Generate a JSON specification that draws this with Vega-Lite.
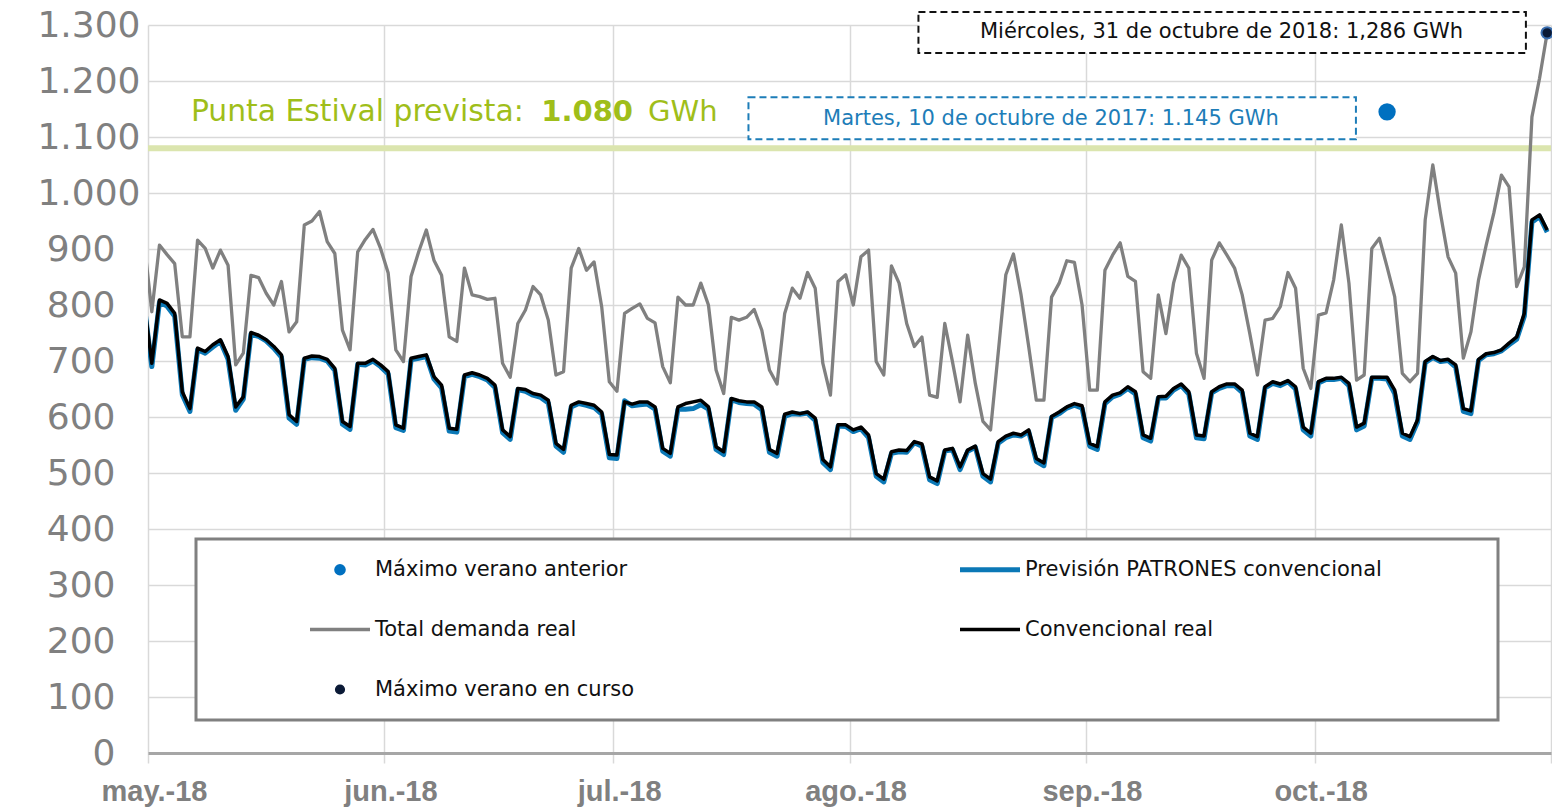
{
  "$schema": "https://vega.github.io/schema/vega-lite/v6.json",
  "width": 1403,
  "height": 728,
  "autosize": {"type": "none"},
  "padding": {"left": 148, "top": 25, "right": 1, "bottom": 54},
  "background": "white",
  "config": {"view": {"stroke": null}, "font": "DejaVu Sans"},
  "datasets": {
    "diario": [
      {"fecha":"2018-04-30","total":912,"prevision":800,"real":804},
      {"fecha":"2018-05-01","total":788,"prevision":690,"real":696},
      {"fecha":"2018-05-02","total":907,"prevision":805,"real":809},
      {"fecha":"2018-05-03","total":890,"prevision":798,"real":803},
      {"fecha":"2018-05-04","total":874,"prevision":780,"real":785},
      {"fecha":"2018-05-05","total":743,"prevision":640,"real":645},
      {"fecha":"2018-05-06","total":743,"prevision":610,"real":615},
      {"fecha":"2018-05-07","total":916,"prevision":720,"real":723},
      {"fecha":"2018-05-08","total":901,"prevision":714,"real":717},
      {"fecha":"2018-05-09","total":866,"prevision":725,"real":729},
      {"fecha":"2018-05-10","total":898,"prevision":735,"real":738},
      {"fecha":"2018-05-11","total":871,"prevision":703,"real":708},
      {"fecha":"2018-05-12","total":693,"prevision":612,"real":618},
      {"fecha":"2018-05-13","total":714,"prevision":632,"real":636},
      {"fecha":"2018-05-14","total":853,"prevision":748,"real":751},
      {"fecha":"2018-05-15","total":849,"prevision":744,"real":746},
      {"fecha":"2018-05-16","total":821,"prevision":736,"real":738},
      {"fecha":"2018-05-17","total":800,"prevision":723,"real":726},
      {"fecha":"2018-05-18","total":842,"prevision":707,"real":711},
      {"fecha":"2018-05-19","total":752,"prevision":598,"real":604},
      {"fecha":"2018-05-20","total":770,"prevision":587,"real":592},
      {"fecha":"2018-05-21","total":943,"prevision":703,"real":705},
      {"fecha":"2018-05-22","total":950,"prevision":706,"real":709},
      {"fecha":"2018-05-23","total":967,"prevision":705,"real":708},
      {"fecha":"2018-05-24","total":913,"prevision":700,"real":703},
      {"fecha":"2018-05-25","total":892,"prevision":683,"real":687},
      {"fecha":"2018-05-26","total":755,"prevision":587,"real":592},
      {"fecha":"2018-05-27","total":720,"prevision":578,"real":583},
      {"fecha":"2018-05-28","total":895,"prevision":694,"real":696},
      {"fecha":"2018-05-29","total":917,"prevision":693,"real":696},
      {"fecha":"2018-05-30","total":935,"prevision":700,"real":703},
      {"fecha":"2018-05-31","total":901,"prevision":690,"real":693},
      {"fecha":"2018-06-01","total":857,"prevision":677,"real":681},
      {"fecha":"2018-06-02","total":720,"prevision":581,"real":586},
      {"fecha":"2018-06-03","total":699,"prevision":576,"real":580},
      {"fecha":"2018-06-04","total":851,"prevision":702,"real":705},
      {"fecha":"2018-06-05","total":895,"prevision":705,"real":708},
      {"fecha":"2018-06-06","total":934,"prevision":708,"real":711},
      {"fecha":"2018-06-07","total":880,"prevision":668,"real":672},
      {"fecha":"2018-06-08","total":853,"prevision":652,"real":657},
      {"fecha":"2018-06-09","total":743,"prevision":575,"real":580},
      {"fecha":"2018-06-10","total":735,"prevision":573,"real":578},
      {"fecha":"2018-06-11","total":866,"prevision":672,"real":675},
      {"fecha":"2018-06-12","total":818,"prevision":676,"real":679},
      {"fecha":"2018-06-13","total":815,"prevision":672,"real":675},
      {"fecha":"2018-06-14","total":810,"prevision":666,"real":669},
      {"fecha":"2018-06-15","total":812,"prevision":653,"real":657},
      {"fecha":"2018-06-16","total":696,"prevision":572,"real":577},
      {"fecha":"2018-06-17","total":671,"prevision":560,"real":565},
      {"fecha":"2018-06-18","total":767,"prevision":649,"real":651},
      {"fecha":"2018-06-19","total":791,"prevision":646,"real":649},
      {"fecha":"2018-06-20","total":833,"prevision":639,"real":642},
      {"fecha":"2018-06-21","total":818,"prevision":635,"real":639},
      {"fecha":"2018-06-22","total":773,"prevision":625,"real":630},
      {"fecha":"2018-06-23","total":675,"prevision":548,"real":553},
      {"fecha":"2018-06-24","total":681,"prevision":537,"real":542},
      {"fecha":"2018-06-25","total":866,"prevision":618,"real":621},
      {"fecha":"2018-06-26","total":901,"prevision":624,"real":627},
      {"fecha":"2018-06-27","total":862,"prevision":621,"real":624},
      {"fecha":"2018-06-28","total":877,"prevision":617,"real":621},
      {"fecha":"2018-06-29","total":797,"prevision":605,"real":609},
      {"fecha":"2018-06-30","total":663,"prevision":527,"real":533},
      {"fecha":"2018-07-01","total":646,"prevision":526,"real":532},
      {"fecha":"2018-07-02","total":785,"prevision":629,"real":627},
      {"fecha":"2018-07-03","total":794,"prevision":620,"real":623},
      {"fecha":"2018-07-04","total":802,"prevision":622,"real":627},
      {"fecha":"2018-07-05","total":776,"prevision":623,"real":627},
      {"fecha":"2018-07-06","total":768,"prevision":614,"real":618},
      {"fecha":"2018-07-07","total":690,"prevision":539,"real":544},
      {"fecha":"2018-07-08","total":661,"prevision":530,"real":535},
      {"fecha":"2018-07-09","total":814,"prevision":614,"real":618},
      {"fecha":"2018-07-10","total":800,"prevision":614,"real":624},
      {"fecha":"2018-07-11","total":800,"prevision":615,"real":627},
      {"fecha":"2018-07-12","total":839,"prevision":622,"real":630},
      {"fecha":"2018-07-13","total":800,"prevision":614,"real":618},
      {"fecha":"2018-07-14","total":684,"prevision":542,"real":547},
      {"fecha":"2018-07-15","total":642,"prevision":533,"real":538},
      {"fecha":"2018-07-16","total":778,"prevision":631,"real":633},
      {"fecha":"2018-07-17","total":773,"prevision":626,"real":629},
      {"fecha":"2018-07-18","total":778,"prevision":624,"real":627},
      {"fecha":"2018-07-19","total":792,"prevision":623,"real":627},
      {"fecha":"2018-07-20","total":755,"prevision":613,"real":618},
      {"fecha":"2018-07-21","total":684,"prevision":537,"real":542},
      {"fecha":"2018-07-22","total":659,"prevision":530,"real":535},
      {"fecha":"2018-07-23","total":785,"prevision":601,"real":605},
      {"fecha":"2018-07-24","total":830,"prevision":606,"real":609},
      {"fecha":"2018-07-25","total":812,"prevision":605,"real":606},
      {"fecha":"2018-07-26","total":858,"prevision":607,"real":609},
      {"fecha":"2018-07-27","total":830,"prevision":594,"real":598},
      {"fecha":"2018-07-28","total":696,"prevision":519,"real":524},
      {"fecha":"2018-07-29","total":639,"prevision":506,"real":511},
      {"fecha":"2018-07-30","total":842,"prevision":584,"real":586},
      {"fecha":"2018-07-31","total":854,"prevision":583,"real":586},
      {"fecha":"2018-08-01","total":800,"prevision":574,"real":577},
      {"fecha":"2018-08-02","total":886,"prevision":579,"real":582},
      {"fecha":"2018-08-03","total":898,"prevision":563,"real":568},
      {"fecha":"2018-08-04","total":699,"prevision":494,"real":499},
      {"fecha":"2018-08-05","total":675,"prevision":484,"real":489},
      {"fecha":"2018-08-06","total":870,"prevision":535,"real":538},
      {"fecha":"2018-08-07","total":839,"prevision":538,"real":541},
      {"fecha":"2018-08-08","total":767,"prevision":537,"real":540},
      {"fecha":"2018-08-09","total":726,"prevision":554,"real":556},
      {"fecha":"2018-08-10","total":743,"prevision":548,"real":552},
      {"fecha":"2018-08-11","total":639,"prevision":488,"real":493},
      {"fecha":"2018-08-12","total":635,"prevision":481,"real":486},
      {"fecha":"2018-08-13","total":767,"prevision":539,"real":541},
      {"fecha":"2018-08-14","total":699,"prevision":542,"real":544},
      {"fecha":"2018-08-15","total":627,"prevision":506,"real":511},
      {"fecha":"2018-08-16","total":746,"prevision":539,"real":541},
      {"fecha":"2018-08-17","total":660,"prevision":546,"real":548},
      {"fecha":"2018-08-18","total":592,"prevision":494,"real":499},
      {"fecha":"2018-08-19","total":577,"prevision":484,"real":489},
      {"fecha":"2018-08-20","total":714,"prevision":553,"real":556},
      {"fecha":"2018-08-21","total":854,"prevision":563,"real":566},
      {"fecha":"2018-08-22","total":891,"prevision":568,"real":571},
      {"fecha":"2018-08-23","total":818,"prevision":566,"real":568},
      {"fecha":"2018-08-24","total":726,"prevision":574,"real":577},
      {"fecha":"2018-08-25","total":630,"prevision":521,"real":526},
      {"fecha":"2018-08-26","total":630,"prevision":513,"real":518},
      {"fecha":"2018-08-27","total":814,"prevision":599,"real":601},
      {"fecha":"2018-08-28","total":839,"prevision":606,"real":609},
      {"fecha":"2018-08-29","total":879,"prevision":616,"real":618},
      {"fecha":"2018-08-30","total":876,"prevision":621,"real":624},
      {"fecha":"2018-08-31","total":800,"prevision":616,"real":620},
      {"fecha":"2018-09-01","total":648,"prevision":548,"real":553},
      {"fecha":"2018-09-02","total":648,"prevision":542,"real":547},
      {"fecha":"2018-09-03","total":862,"prevision":624,"real":627},
      {"fecha":"2018-09-04","total":889,"prevision":636,"real":639},
      {"fecha":"2018-09-05","total":911,"prevision":641,"real":643},
      {"fecha":"2018-09-06","total":851,"prevision":651,"real":654},
      {"fecha":"2018-09-07","total":842,"prevision":641,"real":645},
      {"fecha":"2018-09-08","total":681,"prevision":563,"real":568},
      {"fecha":"2018-09-09","total":669,"prevision":557,"real":562},
      {"fecha":"2018-09-10","total":818,"prevision":634,"real":636},
      {"fecha":"2018-09-11","total":749,"prevision":634,"real":637},
      {"fecha":"2018-09-12","total":839,"prevision":648,"real":651},
      {"fecha":"2018-09-13","total":889,"prevision":656,"real":659},
      {"fecha":"2018-09-14","total":866,"prevision":641,"real":645},
      {"fecha":"2018-09-15","total":714,"prevision":563,"real":568},
      {"fecha":"2018-09-16","total":669,"prevision":561,"real":566},
      {"fecha":"2018-09-17","total":880,"prevision":643,"real":645},
      {"fecha":"2018-09-18","total":911,"prevision":651,"real":654},
      {"fecha":"2018-09-19","total":889,"prevision":656,"real":659},
      {"fecha":"2018-09-20","total":866,"prevision":656,"real":659},
      {"fecha":"2018-09-21","total":818,"prevision":644,"real":648},
      {"fecha":"2018-09-22","total":749,"prevision":566,"real":571},
      {"fecha":"2018-09-23","total":675,"prevision":560,"real":565},
      {"fecha":"2018-09-24","total":773,"prevision":652,"real":654},
      {"fecha":"2018-09-25","total":776,"prevision":660,"real":663},
      {"fecha":"2018-09-26","total":797,"prevision":656,"real":659},
      {"fecha":"2018-09-27","total":858,"prevision":663,"real":665},
      {"fecha":"2018-09-28","total":830,"prevision":650,"real":654},
      {"fecha":"2018-09-29","total":687,"prevision":577,"real":582},
      {"fecha":"2018-09-30","total":651,"prevision":566,"real":571},
      {"fecha":"2018-10-01","total":782,"prevision":661,"real":663},
      {"fecha":"2018-10-02","total":786,"prevision":667,"real":669},
      {"fecha":"2018-10-03","total":845,"prevision":667,"real":669},
      {"fecha":"2018-10-04","total":943,"prevision":669,"real":671},
      {"fecha":"2018-10-05","total":839,"prevision":656,"real":660},
      {"fecha":"2018-10-06","total":666,"prevision":577,"real":582},
      {"fecha":"2018-10-07","total":675,"prevision":584,"real":589},
      {"fecha":"2018-10-08","total":901,"prevision":669,"real":671},
      {"fecha":"2018-10-09","total":919,"prevision":669,"real":671},
      {"fecha":"2018-10-10","total":868,"prevision":668,"real":671},
      {"fecha":"2018-10-11","total":815,"prevision":642,"real":648},
      {"fecha":"2018-10-12","total":678,"prevision":566,"real":571},
      {"fecha":"2018-10-13","total":663,"prevision":560,"real":565},
      {"fecha":"2018-10-14","total":678,"prevision":591,"real":595},
      {"fecha":"2018-10-15","total":952,"prevision":697,"real":699},
      {"fecha":"2018-10-16","total":1050,"prevision":706,"real":708},
      {"fecha":"2018-10-17","total":964,"prevision":699,"real":701},
      {"fecha":"2018-10-18","total":886,"prevision":701,"real":703},
      {"fecha":"2018-10-19","total":857,"prevision":689,"real":693},
      {"fecha":"2018-10-20","total":705,"prevision":610,"real":615},
      {"fecha":"2018-10-21","total":752,"prevision":606,"real":611},
      {"fecha":"2018-10-22","total":845,"prevision":701,"real":703},
      {"fecha":"2018-10-23","total":907,"prevision":711,"real":713},
      {"fecha":"2018-10-24","total":964,"prevision":713,"real":715},
      {"fecha":"2018-10-25","total":1032,"prevision":718,"real":720},
      {"fecha":"2018-10-26","total":1011,"prevision":729,"real":732},
      {"fecha":"2018-10-27","total":833,"prevision":739,"real":743},
      {"fecha":"2018-10-28","total":868,"prevision":780,"real":785},
      {"fecha":"2018-10-29","total":1136,"prevision":948,"real":952},
      {"fecha":"2018-10-30","total":1205,"prevision":958,"real":961},
      {"fecha":"2018-10-31","total":1286,"prevision":930,"real":934}
    ],
    "maximos": [
      {"fecha":"2018-10-10","serie":"anterior","valor":1145},
      {"fecha":"2018-10-31","serie":"curso","valor":1286}
    ]
  },
  "layer": [
    {
      "data": {"values": [{}]},
      "mark": {"type": "rule", "color": "#dbe5ae", "strokeWidth": 6},
      "encoding": {"y": {"datum": 1080, "type": "quantitative"}}
    },
    {
      "data": {"name": "diario"},
      "transform": [{"fold": ["total"], "as": ["serie", "valor"]}],
      "mark": {"type": "line", "clip": true, "strokeWidth": 3.3, "strokeJoin": "round"},
      "encoding": {
        "x": {
          "field": "fecha", "type": "temporal", "timeUnit": "utcyearmonthdate", "bandPosition": 0.5,
          "scale": {"type": "utc", "domain": [{"year": 2018, "month": 5, "date": 1, "utc": true}, {"year": 2018, "month": 11, "date": 1, "utc": true}]},
          "title": null,
          "axis": {
            "values": [
              {"year": 2018, "month": 5, "date": 1, "utc": true},
              {"year": 2018, "month": 6, "date": 1, "utc": true},
              {"year": 2018, "month": 7, "date": 1, "utc": true},
              {"year": 2018, "month": 8, "date": 1, "utc": true},
              {"year": 2018, "month": 9, "date": 1, "utc": true},
              {"year": 2018, "month": 10, "date": 1, "utc": true},
              {"year": 2018, "month": 11, "date": 1, "utc": true}
            ],
            "labelExpr": "utcmonth(datum.value) == 10 ? '' : ['ene.','feb.','mar.','abr.','may.','jun.','jul.','ago.','sep.','oct.','nov.','dic.'][utcmonth(datum.value)] + '-' + utcFormat(datum.value, '%y')",
            "labelFont": "Liberation Sans", "labelFontWeight": "bold", "labelFontSize": 29, "labelColor": "#808080",
            "labelBaseline": "top", "labelPadding": 14, "labelOffset": 6, "labelFlush": false, "labelOverlap": false,
            "grid": true, "gridColor": "#d9d9d9", "gridWidth": 1.5,
            "domainColor": "#a6a6a6", "domainWidth": 3,
            "tickColor": "#d9d9d9", "tickSize": 10, "tickWidth": 1.5
          }
        },
        "y": {
          "field": "valor", "type": "quantitative",
          "scale": {"domain": [0, 1300]},
          "title": null,
          "axis": {
            "values": [0, 100, 200, 300, 400, 500, 600, 700, 800, 900, 1000, 1100, 1200, 1300],
            "labelExpr": "replace(format(datum.value, ','), ',', '.')",
            "labelFont": "DejaVu Sans", "labelFontSize": 36, "labelColor": "#808080",
            "labelPadding": {"condition": {"test": "datum.value >= 1000", "value": 8}, "value": 33},
            "domain": false, "ticks": false,
            "grid": true, "gridColor": "#d9d9d9", "gridWidth": 1.5
          }
        },
        "color": {
          "field": "serie", "type": "nominal",
          "scale": {"domain": ["anterior", "total", "curso", "prevision", "real"], "range": ["#0070c0", "#808080", "#0b1a36", "#0b78b6", "#000000"]},
          "legend": {
            "orient": "none", "legendX": 48, "legendY": 514,
            "columns": 2, "columnPadding": 231, "rowPadding": 38,
            "padding": 20, "symbolOffset": 113.5, "labelOffset": 24.5,
            "fillColor": "white", "strokeColor": "#808080",
            "labelFont": "DejaVu Sans", "labelFontSize": 21, "labelColor": "#111111", "labelLimit": 600,
            "symbolSize": 3600, "symbolType": "stroke", "symbolStrokeWidth": 4,
            "title": " ", "titleOrient": "right", "titlePadding": 96,
            "labelExpr": "datum.label == 'anterior' ? 'Máximo verano anterior' : datum.label == 'prevision' ? 'Previsión PATRONES convencional' : datum.label == 'total' ? 'Total demanda real' : datum.label == 'real' ? 'Convencional real' : 'Máximo verano en curso'",
            "encode": {
              "legend": {"update": {"strokeWidth": {"value": 3}}},
              "symbols": {"update": {
                "shape": {"signal": "datum.value == 'anterior' || datum.value == 'curso' ? 'circle' : 'stroke'"},
                "size": {"signal": "datum.value == 'anterior' ? 135 : datum.value == 'curso' ? 75 : 3600"},
                "strokeWidth": {"signal": "datum.value == 'prevision' ? 5 : datum.value == 'curso' ? 1.5 : datum.value == 'anterior' ? 0 : 3.5"},
                "fill": {"signal": "datum.value == 'anterior' ? '#0070c0' : datum.value == 'curso' ? '#0b1a36' : 'transparent'"},
                "stroke": {"signal": "datum.value == 'anterior' ? '#0070c0' : datum.value == 'curso' ? '#3b6fb0' : datum.value == 'prevision' ? '#0b78b6' : datum.value == 'total' ? '#808080' : '#000000'"},
                "opacity": {"value": 1}
              }}
            }
          }
        }
      }
    },
    {
      "data": {"name": "diario"},
      "transform": [{"fold": ["prevision"], "as": ["serie", "valor"]}],
      "mark": {"type": "line", "clip": true, "strokeWidth": 5, "strokeJoin": "round"},
      "encoding": {
        "x": {"field": "fecha", "type": "temporal", "timeUnit": "utcyearmonthdate", "bandPosition": 0.5},
        "y": {"field": "valor", "type": "quantitative"},
        "color": {"field": "serie", "type": "nominal"}
      }
    },
    {
      "data": {"name": "diario"},
      "transform": [{"fold": ["real"], "as": ["serie", "valor"]}],
      "mark": {"type": "line", "clip": true, "strokeWidth": 3.5, "strokeJoin": "round"},
      "encoding": {
        "x": {"field": "fecha", "type": "temporal", "timeUnit": "utcyearmonthdate", "bandPosition": 0.5},
        "y": {"field": "valor", "type": "quantitative"},
        "color": {"field": "serie", "type": "nominal"}
      }
    },
    {
      "data": {"name": "maximos"},
      "transform": [{"filter": "datum.serie == 'anterior'"}],
      "mark": {"type": "circle", "size": 300, "opacity": 1},
      "encoding": {
        "x": {"field": "fecha", "type": "temporal", "timeUnit": "utcyearmonthdate", "bandPosition": 0.5},
        "y": {"field": "valor", "type": "quantitative"},
        "color": {"field": "serie", "type": "nominal"}
      }
    },
    {
      "data": {"name": "maximos"},
      "transform": [{"filter": "datum.serie == 'curso'"}],
      "mark": {"type": "circle", "size": 130, "opacity": 1, "stroke": "#3b6fb0", "strokeWidth": 2},
      "encoding": {
        "x": {"field": "fecha", "type": "temporal", "timeUnit": "utcyearmonthdate", "bandPosition": 0.5},
        "y": {"field": "valor", "type": "quantitative"},
        "color": {"field": "serie", "type": "nominal"}
      }
    },
    {
      "data": {"values": [{}]},
      "mark": {"type": "rect", "fill": "white", "stroke": "#1d7db8", "strokeDash": [7, 4], "strokeWidth": 2},
      "encoding": {
        "x": {"datum": {"year": 2018, "month": 7, "date": 18, "hours": 18, "utc": true}, "type": "temporal"},
        "x2": {"datum": {"year": 2018, "month": 10, "date": 6, "hours": 10, "utc": true}},
        "y": {"datum": 1171, "type": "quantitative"},
        "y2": {"datum": 1096}
      }
    },
    {
      "data": {"values": [{}]},
      "mark": {"type": "text", "text": "Martes, 10 de octubre de 2017: 1.145 GWh", "font": "DejaVu Sans", "fontSize": 21, "color": "#1d7db8", "align": "center", "baseline": "middle"},
      "encoding": {
        "x": {"datum": {"year": 2018, "month": 8, "date": 27, "hours": 10, "utc": true}, "type": "temporal"},
        "y": {"datum": 1133, "type": "quantitative"}
      }
    },
    {
      "data": {"values": [{}]},
      "mark": {"type": "rect", "fill": "white", "stroke": "#111111", "strokeDash": [7, 4], "strokeWidth": 2},
      "encoding": {
        "x": {"datum": {"year": 2018, "month": 8, "date": 10, "hours": 1, "utc": true}, "type": "temporal"},
        "x2": {"datum": {"year": 2018, "month": 10, "date": 28, "hours": 17, "utc": true}},
        "y": {"datum": 1323, "type": "quantitative"},
        "y2": {"datum": 1250}
      }
    },
    {
      "data": {"values": [{}]},
      "mark": {"type": "text", "text": "Miércoles, 31 de octubre de 2018: 1,286 GWh", "font": "DejaVu Sans", "fontSize": 21, "color": "#111111", "align": "center", "baseline": "middle"},
      "encoding": {
        "x": {"datum": {"year": 2018, "month": 9, "date": 18, "hours": 19, "utc": true}, "type": "temporal"},
        "y": {"datum": 1287, "type": "quantitative"}
      }
    },
    {
      "data": {"values": [{}]},
      "mark": {"type": "text", "text": "Punta Estival prevista:", "font": "DejaVu Sans", "fontSize": 29.8, "color": "#9fbe1a", "align": "left", "baseline": "alphabetic"},
      "encoding": {
        "x": {"datum": {"year": 2018, "month": 5, "date": 6, "hours": 15, "utc": true}, "type": "temporal"},
        "y": {"datum": 1128, "type": "quantitative"}
      }
    },
    {
      "data": {"values": [{}]},
      "mark": {"type": "text", "text": "1.080", "font": "DejaVu Sans", "fontSize": 29, "fontWeight": "bold", "color": "#9fbe1a", "align": "left", "baseline": "alphabetic"},
      "encoding": {
        "x": {"datum": {"year": 2018, "month": 6, "date": 21, "hours": 14, "utc": true}, "type": "temporal"},
        "y": {"datum": 1128, "type": "quantitative"}
      }
    },
    {
      "data": {"values": [{}]},
      "mark": {"type": "text", "text": "GWh", "font": "DejaVu Sans", "fontSize": 29, "color": "#9fbe1a", "align": "left", "baseline": "alphabetic"},
      "encoding": {
        "x": {"datum": {"year": 2018, "month": 7, "date": 5, "hours": 14, "utc": true}, "type": "temporal"},
        "y": {"datum": 1128, "type": "quantitative"}
      }
    }
  ]
}
